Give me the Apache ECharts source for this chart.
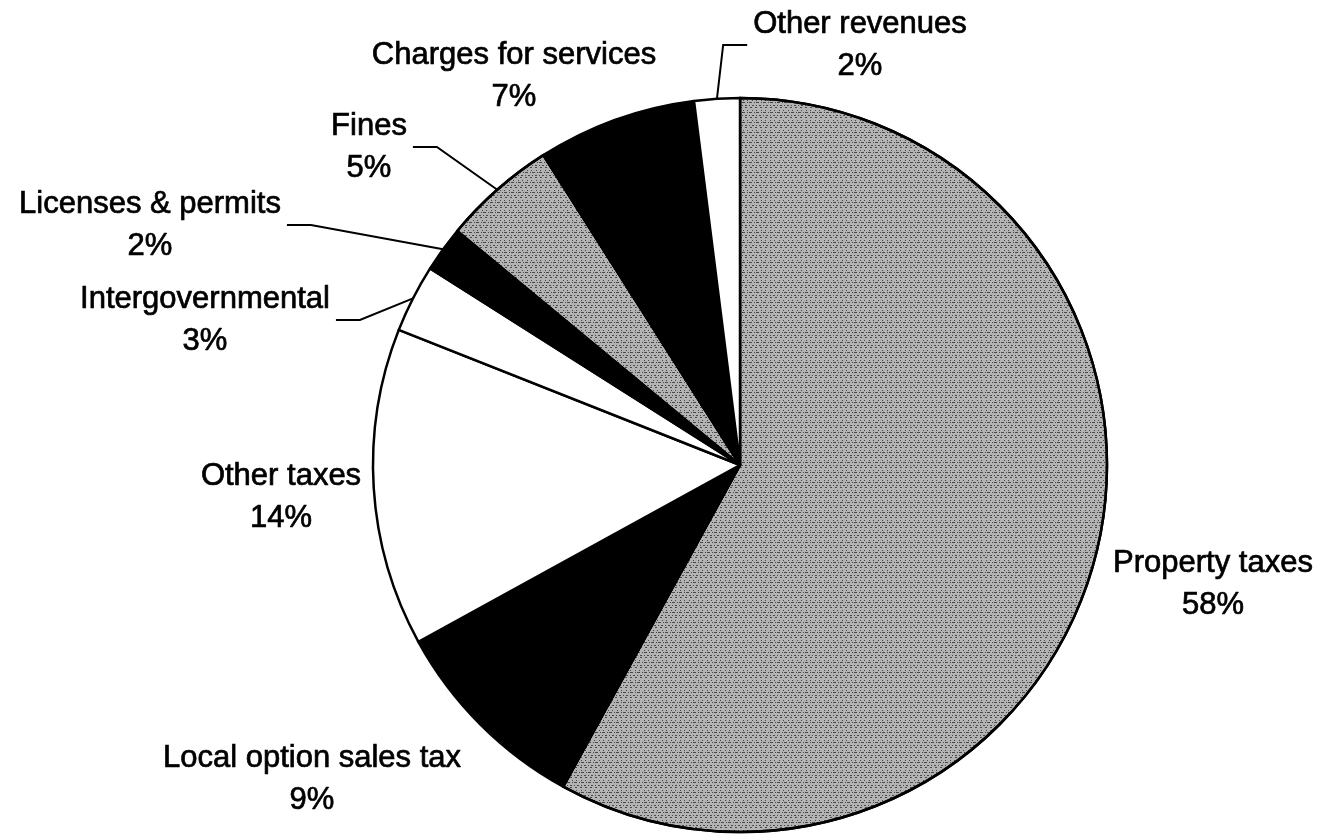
<!DOCTYPE html>
<html>
<head>
<meta charset="utf-8">
<script src="https://cdn.jsdelivr.net/npm/echarts@6/dist/echarts.min.js"></script>
<style>
  html, body { margin: 0; padding: 0; background: #fff; }
  #chart1 { width: 1323px; height: 835px; }
</style>
</head>
<body>
<div id="chart1"></div>
<script>
// revenue sources, percent of total
var categories = ['Property taxes', 'Local option sales tax', 'Other taxes', 'Intergovernmental',
                  'Licenses & permits', 'Fines', 'Charges for services', 'Other revenues'];
var shares = [58, 9, 14, 3, 2, 5, 7, 2];

// fill per slice: speckle / black / white
var fills = ['speckle', 'black', 'white', 'white', 'black', 'speckle', 'black', 'white'];
// which labels have a leader line
var hasLine = [false, false, false, true, true, true, false, true];
// label block centres (text placement only)
var labelPos = [[1213, 584], [312, 779], [281, 497], [205, 320], [150, 225], [369, 147], [514, 76], [860, 45]];

var speckle = {
    color: '#b3b3b3',
    decal: {
        symbol: 'rect',
        symbolSize: 1,
        color: 'rgba(0,0,0,0.6)',
        dashArrayX: [[1, 2, 2, 2], [2, 3], [1, 4, 1, 3], [3, 2, 1, 1]],
        dashArrayY: [1, 1, 1, 2],
        rotation: 0
    }
};

var chart = echarts.init(document.getElementById('chart1'));

var pieData = [];
for (var i = 0; i < categories.length; i++) {
    var st = fills[i] === 'speckle' ? speckle : { color: fills[i] === 'black' ? '#000' : '#fff' };
    pieData.push({
        name: categories[i],
        value: shares[i],
        itemStyle: st,
        labelLine: { show: hasLine[i] }
    });
}

var option = {
    backgroundColor: '#fff',
    animation: false,
    series: [{
        type: 'pie',
        center: [740, 465],
        radius: 367,
        startAngle: 90,
        clockwise: true,
        avoidLabelOverlap: false,
        itemStyle: { borderColor: '#000', borderWidth: 2.5 },
        label: {
            show: true,
            position: 'outside',
            formatter: '{b}\n{c}%',
            fontFamily: 'Liberation Sans, Arial, sans-serif',
            fontSize: 31,
            lineHeight: 42,
            color: '#000',
            textBorderColor: '#000',
            textBorderWidth: 0.7,
            padding: [0, 6]
        },
        labelLine: {
            length: 10,
            length2: 24,
            lineStyle: { color: '#000', width: 2 }
        },
        labelLayout: function (p) {
            var pos = labelPos[p.dataIndex];
            return { x: pos[0], y: pos[1], align: 'center', verticalAlign: 'middle' };
        },
        data: pieData
    }]
};

chart.setOption(option);
</script>
</body>
</html>
